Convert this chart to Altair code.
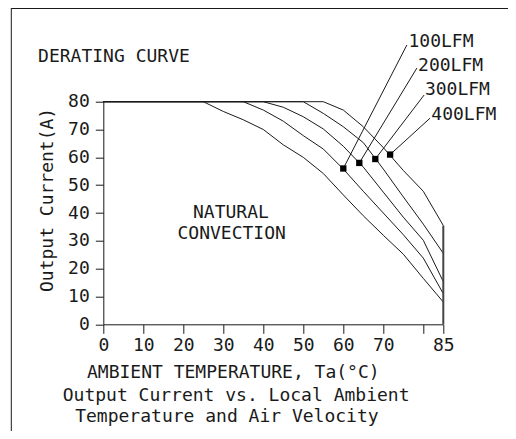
import altair as alt
import pandas as pd

# ---- data ----
temps = [0, 25, 30, 35, 40, 45, 50, 55, 60, 65, 70, 75, 80, 85]
natural = [80, 80, 76.5, 73.5, 70, 64.5, 60, 54.2, 46.5, 39, 32, 25.2, 16.5, 8]
lfm100 = [80, 80, 80, 80, 77, 73, 67.8, 63, 55.8, 47.8, 40, 32.2, 23.8, 11]
lfm200 = [80, 80, 80, 80, 80, 78, 74.6, 70.2, 64, 56.5, 47.5, 38.5, 30.2, 15.3]
lfm300 = [80, 80, 80, 80, 80, 80, 80, 75.8, 71, 65.3, 55.8, 45.8, 36, 25.5]
lfm400 = [80, 80, 80, 80, 80, 80, 80, 80, 77, 71, 63.5, 55.3, 47.8, 35.5]
series_names = ["natural", "100LFM", "200LFM", "300LFM", "400LFM"]

marker_labels = ["100LFM", "200LFM", "300LFM", "400LFM"]
marker_temp = [60, 64, 68, 71.7]
marker_current = [56, 58, 59.4, 61]
leader_temp = [75.9, 78.4, 80.2, 81.7]
leader_current = [100.4, 92.1, 82.4, 74.1]
label_temp = [76.3, 78.7, 80.4, 82.0]
label_current = [101.6, 92.9, 84.2, 75.3]

x_ticks = [0, 10, 20, 30, 40, 50, 60, 70, 80, 85]
y_ticks = [0, 10, 20, 30, 40, 50, 60, 70, 80]
end_temp = [85]
end_current = [35.5]

notes = ["DERATING CURVE", "NATURAL", "CONVECTION", "AMBIENT TEMPERATURE, Ta(°C)",
         "Output Current vs. Local Ambient", "Temperature and Air Velocity"]
note_temp = [-16.3, 31.9, 32.1, 32.5, 33.2, 30.9]
note_current = [96.2, 39.9, 32.4, -17.6, -25.8, -33.2]
note_align = ["left", "center", "center", "center", "center", "center"]

ytitle = ["Output Current(A)"]
ytitle_temp = [-13.75]
ytitle_current = [44.7]

FONT = "DejaVu Sans Mono"
FS = 18
INK = "#1a1a1a"

rows = []
for name, vals in zip(series_names, [natural, lfm100, lfm200, lfm300, lfm400]):
    for t, v in zip(temps, vals):
        rows.append({"series": name, "temp": t, "current": v})
curves = pd.DataFrame(rows)

markers = pd.DataFrame({"label": marker_labels, "temp": marker_temp, "current": marker_current,
                        "ltemp": leader_temp, "lcurrent": leader_current})
labels = pd.DataFrame({"label": marker_labels, "temp": label_temp, "current": label_current})
ends = pd.DataFrame({"temp": end_temp, "current": end_current})
note_df = pd.DataFrame({"text": notes, "temp": note_temp, "current": note_current, "align": note_align})
ytitle_df = pd.DataFrame({"text": ytitle, "temp": ytitle_temp, "current": ytitle_current})

xs = alt.Scale(domain=[0, 85], nice=False, zero=False)
ys = alt.Scale(domain=[0, 80], nice=False, zero=False)

xaxis = alt.Axis(values=x_ticks, title=None, grid=False, tickSize=9, labelPadding=3,
                 labelExpr="datum.value == 80 ? '' : datum.label",
                 labelFont=FONT, labelFontSize=FS, labelColor=INK,
                 domainColor=INK, tickColor=INK, labelFlush=False, labelOverlap=False)
yaxis = alt.Axis(values=y_ticks, title=None, grid=False, tickSize=8, labelPadding=6,
                 labelFont=FONT, labelFontSize=FS, labelColor=INK,
                 domainColor=INK, tickColor=INK, labelFlush=False, labelOverlap=False)

X = alt.X("temp:Q", scale=xs, axis=xaxis)
Y = alt.Y("current:Q", scale=ys, axis=yaxis)

base_lines = alt.Chart(curves).mark_line(color=INK, strokeWidth=1).encode(
    x=X, y=Y, detail="series:N", order="temp:Q",
)

end_rule = alt.Chart(ends).mark_rule(color="#444", strokeWidth=2).encode(
    x=X, y=Y, y2=alt.datum(0),
)

leaders = alt.Chart(markers).mark_rule(color=INK, strokeWidth=1).encode(
    x=X, y=Y, x2="ltemp:Q", y2="lcurrent:Q",
)

dots = alt.Chart(markers).mark_square(size=40, color="black", opacity=1).encode(x=X, y=Y)

label_text = alt.Chart(labels).mark_text(align="left", baseline="middle", font=FONT,
                                         fontSize=FS, color=INK).encode(
    x=X, y=Y, text="label:N",
)

note_layers = []
for al in ["left", "center"]:
    note_layers.append(
        alt.Chart(note_df[note_df["align"] == al]).mark_text(
            align=al, baseline="middle", font=FONT, fontSize=FS, color=INK
        ).encode(x=X, y=Y, text="text:N")
    )

ytitle_text = alt.Chart(ytitle_df).mark_text(angle=270, align="center", baseline="middle",
                                             font=FONT, fontSize=FS, color=INK).encode(
    x=X, y=Y, text="text:N",
)

frame_top = alt.Chart(ends).mark_rule(color=INK, strokeWidth=1).encode(
    x=alt.value(-92), x2=alt.value(430), y=alt.value(-93.2)
)
frame_left = alt.Chart(ends).mark_rule(color=INK, strokeWidth=1).encode(
    x=alt.value(-92), y=alt.value(-94), y2=alt.value(360)
)

chart = alt.layer(
    base_lines, end_rule, leaders, dots, label_text, *note_layers, ytitle_text, frame_top, frame_left
).properties(
    width=340,
    height=222.6,
    background="white",
    autosize=alt.AutoSizeParams(type="none"),
    padding={"left": 95.3, "top": 93.7, "right": 64.7, "bottom": 106.7},
).configure_view(strokeWidth=0, stroke=None)

chart.save("out.html", embed_options={"renderer": "svg", "actions": False})
